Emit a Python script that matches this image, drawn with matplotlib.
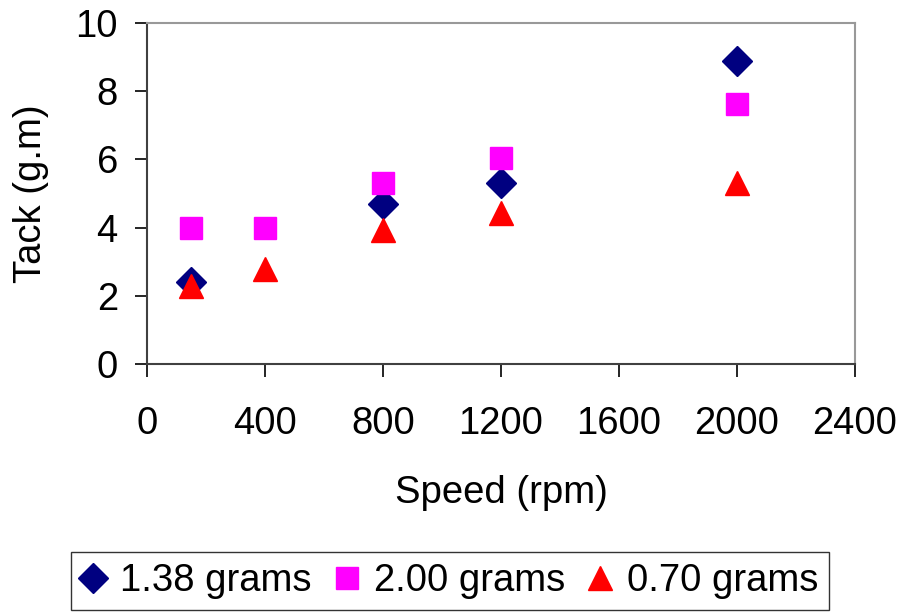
import matplotlib.pyplot as plt

plt.rcParams['font.family'] = ['Liberation Sans', 'DejaVu Sans']

speed = [150, 400, 800, 1200, 2000]
tack_138 = [2.4, None, 4.7, 5.3, 8.9]   # 400 rpm point hidden behind the square
tack_200 = [4.0, 4.0, 5.3, 6.05, 7.63]
tack_070 = [2.3, 2.8, 3.92, 4.43, 5.31]
labels = ['1.38 grams', '2.00 grams', '0.70 grams']

fig = plt.figure(figsize=(9.04, 6.13), dpi=100)
ax = fig.add_axes([147 / 904, 1 - 364 / 613, 708 / 904, 341 / 613])

x138 = [s for s, t in zip(speed, tack_138) if t is not None]
y138 = [t for t in tack_138 if t is not None]
ax.plot(x138, y138, 'D', color='#000080', ms=15, ls='none', label=labels[0])
ax.plot(speed, tack_200, 's', color='#ff00ff', ms=16.5, ls='none', label=labels[1])
ax.plot(speed, tack_070, '^', color='#ff0000', ms=17, ls='none', label=labels[2])

ax.set_xlim(0, 2400)
ax.set_ylim(0, 10)
ax.set_xticks(range(0, 2401, 400))
ax.set_yticks(range(0, 11, 2))
ax.tick_params(direction='out', length=9, width=1.2, labelsize=27.5, color='black')
ax.tick_params(axis='x', pad=21)
ax.tick_params(axis='y', pad=12)

for s in ['top', 'right']:
    ax.spines[s].set_color('#999999')
    ax.spines[s].set_linewidth(1.5)
for s in ['left', 'bottom']:
    ax.spines[s].set_color('#404040')
    ax.spines[s].set_linewidth(1.5)

ax.set_xlabel('Speed (rpm)', fontsize=27.5, labelpad=24)
ax.set_ylabel('Tack (g.m)', fontsize=27.5, labelpad=19)

leg = fig.legend(loc='center', bbox_to_anchor=(450 / 904, 1 - 581 / 613), ncol=3,
                 fontsize=27.5, frameon=True, fancybox=False, markerscale=1.0,
                 handlelength=0.6, handletextpad=0.4, columnspacing=0.62,
                 borderpad=0.3, borderaxespad=0, edgecolor='black')
leg.get_frame().set_linewidth(1.0)

fig.savefig('out.png', dpi=100)
